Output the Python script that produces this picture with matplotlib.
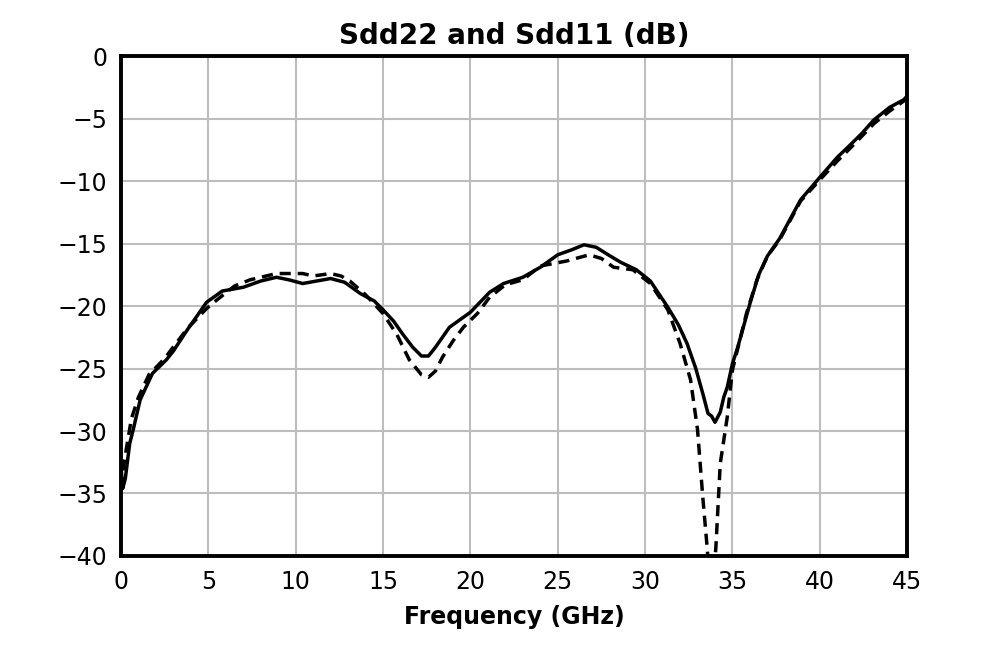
import numpy as np
import matplotlib
matplotlib.use('Agg')
import matplotlib.pyplot as plt

# Sdd22 (solid)
f_sdd22 = [0.0, 0.1, 0.25, 0.5, 0.7, 1.1, 1.8, 2.6, 3.0, 3.8, 4.9, 5.8, 7.0, 8.0, 8.9,
           9.6, 10.4, 11.2, 12.0, 12.8, 13.7, 14.5, 15.0, 15.6, 16.1, 16.7, 17.2, 17.6,
           18.0, 18.8, 20.0, 21.1, 21.9, 23.0, 24.0, 25.0, 25.8, 26.5, 27.2, 28.0, 28.6,
           29.5, 30.3, 31.3, 31.9, 32.4, 32.9, 33.3, 33.6, 33.8, 34.0, 34.3, 34.5, 34.7,
           35.0, 35.3, 36.0, 36.5, 37.0, 37.7, 38.9, 40.0, 41.0, 41.6, 42.4, 43.1, 44.0,
           44.8, 45.0]
db_sdd22 = [-32.8, -34.6, -33.8, -31.0, -29.9, -27.5, -25.4, -24.3, -23.6, -21.9, -19.7,
            -18.8, -18.5, -18.0, -17.7, -17.9, -18.2, -18.0, -17.8, -18.1, -19.0, -19.6,
            -20.3, -21.2, -22.2, -23.3, -24.0, -24.0, -23.3, -21.7, -20.5, -18.9, -18.2,
            -17.7, -16.9, -15.9, -15.5, -15.1, -15.3, -16.0, -16.5, -17.1, -18.0, -20.1,
            -21.5, -23.0, -25.0, -27.0, -28.6, -28.8, -29.3, -28.5, -27.3, -26.5, -24.6,
            -23.3, -19.8, -17.5, -16.0, -14.6, -11.5, -9.7, -8.1, -7.3, -6.2, -5.1, -4.1,
            -3.5, -3.2]

# Sdd11 (dashed)
f_sdd11 = [0.0, 0.1, 0.3, 0.6, 1.0, 1.6, 2.5, 3.8, 4.9, 5.5, 6.5, 7.4, 8.9, 10.4, 11.0,
           12.0, 12.6, 13.1, 14.0, 15.0, 15.8, 16.5, 17.2, 17.6, 18.0, 18.4, 19.0, 19.6,
           20.4, 21.1, 22.0, 23.0, 24.0, 25.5, 26.8, 27.5, 28.2, 29.3, 30.3, 31.3, 32.0,
           32.6, 33.0, 33.3, 33.55, 33.8, 34.05, 34.3, 34.7, 35.0, 35.8, 36.4, 37.0, 37.7,
           38.9, 40.0, 41.0, 42.0, 43.1, 44.0, 45.0]
db_sdd11 = [-32.0, -33.3, -31.5, -29.0, -27.3, -25.5, -24.2, -21.8, -20.2, -19.5, -18.4,
            -17.9, -17.4, -17.4, -17.6, -17.4, -17.6, -18.0, -19.1, -20.6, -22.3, -24.3,
            -25.5, -25.7, -25.2, -24.1, -22.8, -21.7, -20.6, -19.3, -18.3, -17.9, -16.8,
            -16.4, -15.9, -16.2, -16.9, -17.1, -18.2, -20.3, -23.0, -25.9, -29.9, -35.3,
            -39.3, -44.0, -39.3, -32.6, -28.9, -25.1, -20.6, -17.9, -16.0, -14.7, -11.6,
            -9.9, -8.4, -7.0, -5.4, -4.4, -3.4]

fig = plt.figure(figsize=(10.08, 6.48), dpi=100)
ax = fig.add_axes([0.12, 0.142, 0.78, 0.7715])

ax.plot(f_sdd22, db_sdd22, color='black', lw=2.5, zorder=3)
ax.plot(f_sdd11, db_sdd11, color='black', lw=2.5, dashes=(3.2, 2.0), zorder=3)

ax.set_xlim(0, 45)
ax.set_ylim(-40, 0)
ax.set_xticks(np.arange(0, 46, 5))
ax.set_yticks(np.arange(-40, 1, 5))
ax.tick_params(length=0, labelsize=17, pad=10)
ax.grid(True, color='#bdbdbd', lw=1.5)
ax.set_axisbelow(True)
for s in ax.spines.values():
    s.set_linewidth(2.8)

ax.set_title('Sdd22 and Sdd11 (dB)', fontsize=20, fontweight='bold', pad=9)
ax.set_xlabel('Frequency (GHz)', fontsize=17, fontweight='bold', labelpad=8)

fig.savefig('out.png', dpi=100)
